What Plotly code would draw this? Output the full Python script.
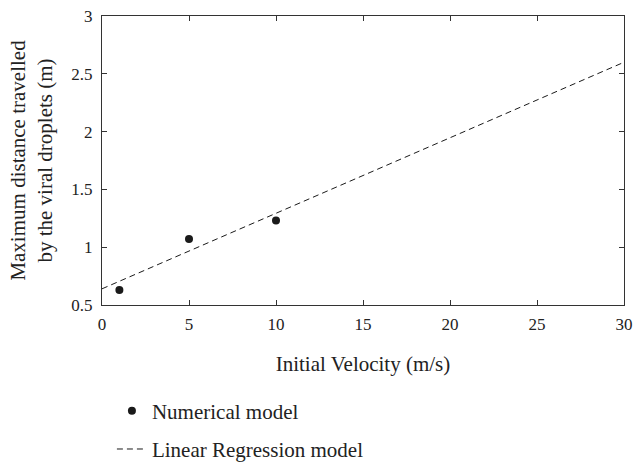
import plotly.graph_objects as go

# Data
vel = [1, 5, 10]
dist = [0.63, 1.07, 1.23]
reg_x = [0, 30]
reg_y = [0.64, 2.6]
x_ticks = [0, 5, 10, 15, 20, 25, 30]
y_ticks = [0.5, 1, 1.5, 2, 2.5, 3]

FONT = "Liberation Serif"

fig = go.Figure()
fig.add_trace(go.Scatter(
    x=vel, y=dist, mode="markers", name="Numerical model",
    marker=dict(color="#1a1a1a", size=8), legendgroup="a"))
fig.add_trace(go.Scatter(
    x=reg_x, y=reg_y, mode="lines", name="Linear Regression model",
    line=dict(color="#1a1a1a", width=1, dash="6px,4px"), legendgroup="b"))

axis_common = dict(showline=True, linecolor="#333", linewidth=1, mirror="ticks",
                   ticks="inside", ticklen=5, tickcolor="#333", showgrid=False,
                   zeroline=False, automargin=False,
                   tickfont=dict(family=FONT, size=17, color="#222"))

fig.update_layout(
    width=634, height=464,
    margin=dict(l=102, r=10, t=16, b=159, autoexpand=False),
    plot_bgcolor="white", paper_bgcolor="white",
    font=dict(family=FONT, size=21, color="#222"),
    xaxis=dict(range=[0, 30], tickvals=x_ticks, ticklabelstandoff=4,
               title=dict(text="Initial Velocity (m/s)", standoff=22,
                          font=dict(family=FONT, size=21)),
               **axis_common),
    yaxis=dict(range=[0.5, 3], tickvals=y_ticks, ticklabelstandoff=5,
               title=dict(text="Maximum distance travelled<br>by the viral droplets (m)",
                          standoff=12, font=dict(family=FONT, size=21)),
               **axis_common),
    legend=dict(x=0.019, y=-0.296, xanchor="left", yanchor="top",
                orientation="v", traceorder="grouped", tracegroupgap=8,
                font=dict(family=FONT, size=21), bgcolor="rgba(0,0,0,0)"),
    showlegend=True,
)

fig.write_html("out.html")
